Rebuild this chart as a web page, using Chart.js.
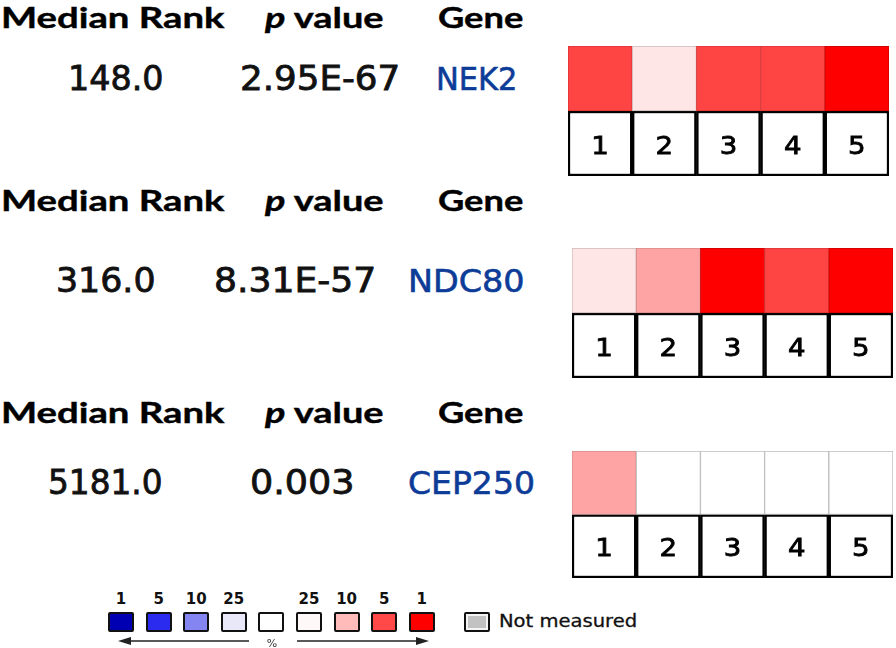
<!DOCTYPE html>
<html>
<head>
<meta charset="utf-8">
<script src="https://cdn.jsdelivr.net/npm/chart.js@4.4.0/dist/chart.umd.min.js"></script>
<style>
    body { margin: 0; background: #fff; width: 896px; height: 648px; position: relative; overflow: hidden; }
    .t { position: absolute; white-space: nowrap; transform-origin: 0 0; line-height: 1; }
    .hd { font-family: Lato, sans-serif; font-weight: 700; font-size: 29px; color: #000; -webkit-text-stroke: 0.4px #000; }
    .val { font-family: 'DejaVu Sans', sans-serif; font-size: 33px; color: #111; -webkit-text-stroke: 0.8px #111; }
    .gene { font-family: 'DejaVu Sans', sans-serif; font-size: 32px; color: #0d3c98; -webkit-text-stroke: 0.6px #0d3c98; }
    .lg { font-family: 'DejaVu Sans', sans-serif; font-weight: 700; font-size: 15px; color: #111; text-align: center; }
    .sq { position: absolute; box-sizing: border-box; border: 2px solid #111; border-radius: 2px; }
    canvas { position: absolute; }
</style>
</head>
<body>
<script>
// --- data ---
const genes = ['NEK2', 'NDC80', 'CEP250'];
const medianRanks = ['148.0', '316.0', '5181.0'];
const pValues = ['2.95E-67', '8.31E-57', '0.003'];
const analyses = ['1', '2', '3', '4', '5'];
// top-% bin of the gene in each analysis (null = outside the top 25%)
const nek2Pct = [5, 25, 5, 5, 1];
const ndc80Pct = [25, 10, 1, 5, 1];
const cep250Pct = [10, null, null, null, null];
const legendLabels = ['1', '5', '10', '25', '', '25', '10', '5', '1'];

// --- styles ---
const legendColors = ['#0000b2', '#2b2bf0', '#8585f2', '#e8e8f8', '#ffffff', '#fff8f8', '#ffbaba', '#ff4848', '#ff0000'];

function cellColor(p) {
    if (p == null) return '#ffffff';
    if (p <= 1) return '#ff0000';
    if (p <= 5) return '#ff4444';
    if (p <= 10) return '#ffa4a4';
    return '#ffe6e6';
}
function cellEdge(p) {
    if (p == null) return '#bdbdbd';
    if (p <= 1) return '#cc0000';
    if (p <= 5) return '#d83434';
    if (p <= 10) return '#d48c8c';
    return '#ccb8b8';
}

// place text by baseline, stretched to a target width
function addText(html, cls, x, baseline, width, baseRatio) {
    const el = document.createElement('div');
    el.className = 't ' + cls;
    el.innerHTML = html;
    document.body.appendChild(el);
    const size = parseFloat(getComputedStyle(el).fontSize);
    el.style.left = x + 'px';
    el.style.top = (baseline - baseRatio * size) + 'px';
    el.style.transform = 'scaleX(' + (width / el.offsetWidth) + ')';
    return el;
}

const LATO_BASE = 0.887;
const DEJAVU_BASE = 0.846;

// header and value rows
const headerBaselines = [28, 211, 423];
const valueBaselines = [90, 292, 494];
const rankPos = [[68, 95], [56, 99], [48, 114]];
const pPos = [[240, 160], [214, 162], [250, 104]];
const genePos = [[436, 82], [408, 117], [408, 127]];

genes.forEach((g, i) => {
    addText('Median Rank', 'hd', 1, headerBaselines[i], 223, LATO_BASE);
    addText('<i>p</i> value', 'hd', 265, headerBaselines[i], 119, LATO_BASE);
    addText('Gene', 'hd', 438, headerBaselines[i], 85, LATO_BASE);
    addText(medianRanks[i], 'val', rankPos[i][0], valueBaselines[i], rankPos[i][1], DEJAVU_BASE);
    addText(pValues[i], 'val', pPos[i][0], valueBaselines[i], pPos[i][1], DEJAVU_BASE);
    addText(g, 'gene', genePos[i][0], valueBaselines[i], genePos[i][1], DEJAVU_BASE);
});

// number labels inside the lower row of boxes
const numberLabels = {
    id: 'numberLabels',
    afterDatasetsDraw(chart) {
        const ctx = chart.ctx;
        const meta = chart.getDatasetMeta(1);
        ctx.save();
        ctx.font = '24px "DejaVu Sans"';
        ctx.fillStyle = '#000';
        ctx.strokeStyle = '#000';
        ctx.lineWidth = 0.8;
        ctx.textAlign = 'center';
        ctx.textBaseline = 'alphabetic';
        meta.data.forEach((bar, i) => {
            const cy = (bar.y + bar.base) / 2;
            ctx.save();
            ctx.translate(bar.x, cy + 10);
            ctx.scale(1.15, 1);
            ctx.fillText(chart.data.labels[i], 0, 0);
            ctx.strokeText(chart.data.labels[i], 0, 0);
            ctx.restore();
        });
        ctx.restore();
    }
};

function makeHeat(pct, left, top, width, height) {
    const canvas = document.createElement('canvas');
    canvas.width = width;
    canvas.height = height;
    canvas.style.left = left + 'px';
    canvas.style.top = top + 'px';
    document.body.appendChild(canvas);
    return new Chart(canvas.getContext('2d'), {
        type: 'bar',
        data: {
            labels: analyses,
            datasets: [
                {
                    data: pct.map(() => [1, 2]),
                    backgroundColor: pct.map(cellColor),
                    borderColor: pct.map(cellEdge),
                    borderWidth: 1,
                    borderSkipped: false,
                    grouped: false,
                    categoryPercentage: 1,
                    barPercentage: 1
                },
                {
                    data: pct.map(() => [0, 1]),
                    backgroundColor: '#ffffff',
                    borderColor: '#000000',
                    borderWidth: 2.5,
                    borderSkipped: false,
                    grouped: false,
                    categoryPercentage: 1,
                    barPercentage: 1
                }
            ]
        },
        options: {
            responsive: false,
            animation: false,
            events: [],
            layout: { padding: 0 },
            plugins: { legend: { display: false }, tooltip: { enabled: false } },
            scales: {
                x: { display: false },
                y: { display: false, min: 0, max: 2 }
            }
        },
        plugins: [numberLabels]
    });
}

makeHeat(nek2Pct, 568, 46, 321, 130);
makeHeat(ndc80Pct, 572, 248, 321, 130);
makeHeat(cep250Pct, 572, 451, 321, 127);

// colour legend
legendLabels.forEach((lab, i) => {
    const x = 108 + i * 37.6;
    const sq = document.createElement('div');
    sq.className = 'sq';
    sq.style.left = x + 'px';
    sq.style.top = '612px';
    sq.style.width = '26px';
    sq.style.height = '20px';
    sq.style.background = legendColors[i];
    document.body.appendChild(sq);
    if (lab) {
        const t = document.createElement('div');
        t.className = 't lg';
        t.textContent = lab;
        t.style.left = (x - 7) + 'px';
        t.style.width = '40px';
        t.style.top = '592px';
        document.body.appendChild(t);
    }
});
const nm = document.createElement('div');
nm.className = 'sq';
Object.assign(nm.style, { left: '464px', top: '612px', width: '26px', height: '20px', background: '#c2c2c2', boxShadow: 'inset 0 0 0 2px #f4f4f4' });
document.body.appendChild(nm);
const nmText = addText('Not measured', 'val', 499, 627, 138, DEJAVU_BASE);
nmText.style.fontSize = '17px';
nmText.style.webkitTextStroke = '0.3px #111';
nmText.style.top = (627 - DEJAVU_BASE * 17) + 'px';
nmText.style.transform = 'scaleX(' + (138 / nmText.offsetWidth) + ')';

const svgNS = 'http://www.w3.org/2000/svg';
const svg = document.createElementNS(svgNS, 'svg');
svg.setAttribute('width', '896');
svg.setAttribute('height', '648');
svg.style.position = 'absolute';
svg.style.left = '0';
svg.style.top = '0';
svg.innerHTML =
    '<line x1="128" y1="641" x2="249" y2="641" stroke="#222" stroke-width="1.6"/>' +
    '<polygon points="118,641 131,637 131,645" fill="#222"/>' +
    '<line x1="297" y1="641" x2="418" y2="641" stroke="#222" stroke-width="1.6"/>' +
    '<polygon points="429,641 416,637 416,645" fill="#222"/>' +
    '<text x="272" y="647" font-family="DejaVu Sans" font-size="11" text-anchor="middle" fill="#333">%</text>';
document.body.appendChild(svg);
</script>
</body>
</html>
